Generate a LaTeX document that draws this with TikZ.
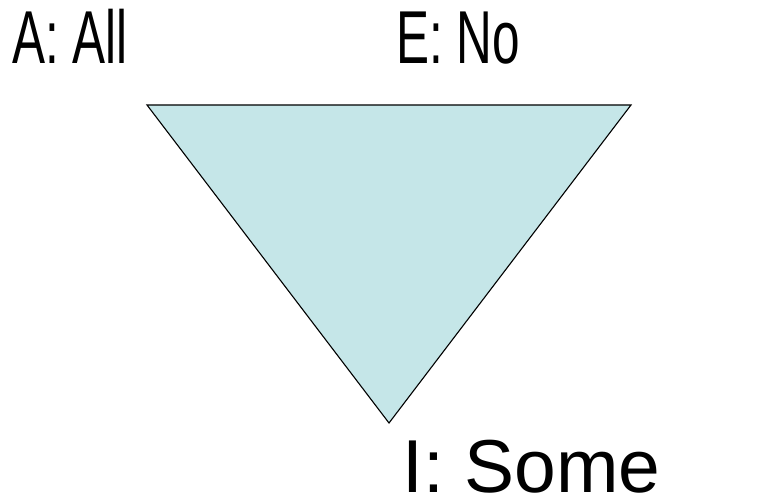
\documentclass[tikz,border=0pt]{standalone}
\usepackage{fontspec}
\setmainfont{Liberation Sans}
\usepackage{xcolor}
\definecolor{trifill}{RGB}{197,230,232}
\tikzset{
  lbl/.style={inner sep=0pt, anchor=base west, font=\fontsize{75}{80}\selectfont},
  narrowlbl/.style={lbl, xscale=0.66},
}

\begin{document}
\begin{tikzpicture}[x=1pt, y=1pt]
  \useasboundingbox (0,0) rectangle (783,497);
  \coordinate (ta) at (147,392);
  \coordinate (te) at (631,392);
  \coordinate (ti) at (389,74);
  \draw[fill=trifill, line width=1.1pt, line join=miter] (ta) -- (te) -- (ti) -- cycle;
  \node[narrowlbl] (a) at (12,433) {A: All};
  \node[narrowlbl] (e) at (396,433) {E: No};
  \node[lbl] (i) at (402,4) {I: Some};
\end{tikzpicture}
\end{document}
